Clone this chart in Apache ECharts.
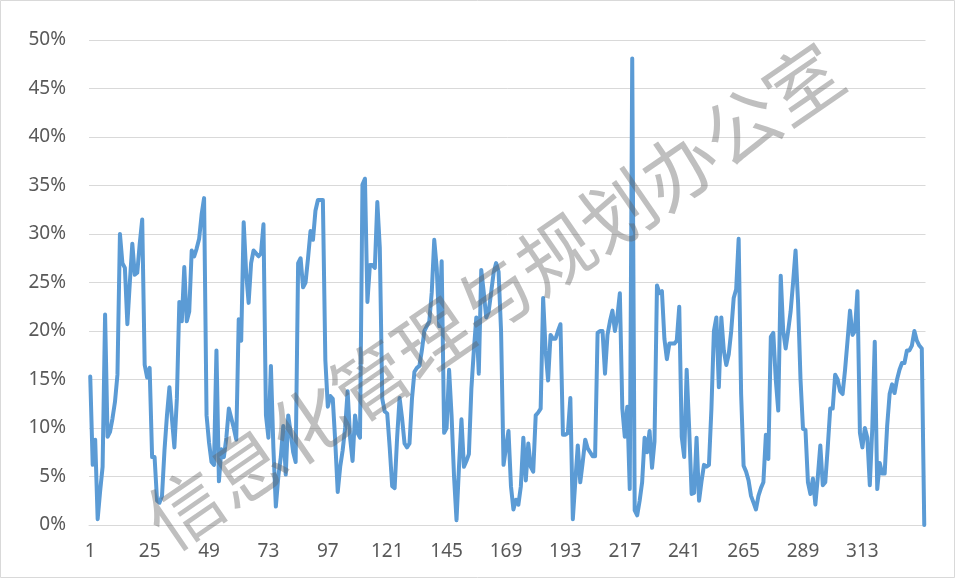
<!DOCTYPE html>
<html>
<head>
<meta charset="utf-8">
<title>line</title>
<script src="https://cdn.jsdelivr.net/npm/echarts@6/dist/echarts.min.js"></script>
<style>
html, body { margin: 0; padding: 0; background: #fff; }
#main { width: 956px; height: 579px; }
</style>
</head>
<body>
<div id="main"></div>
<script>
// values in percent, one per month
var values = [
  15.3, 6.2, 8.8, 0.6, 3.5, 6, 21.7, 9.1, 9.6, 11,
  12.7, 15.5, 30, 27, 26.5, 20.7, 25, 29, 25.8, 26,
  29, 31.5, 16.5, 15.2, 16.2, 7, 7, 2.5, 2.3, 3,
  7.7, 11.3, 14.2, 11, 8, 13, 23, 21, 26.6, 21,
  22, 28.3, 27.7, 28.5, 29.5, 32, 33.7, 11.3, 8.5, 6.5,
  6.2, 18, 4.5, 7.8, 7, 9, 12, 11, 10, 8.8,
  21.2, 19, 31.2, 26, 22.9, 27, 28.3, 28, 27.7, 28,
  31, 11.3, 9, 16.4, 8, 1.9, 5, 7, 10.2, 5.2,
  11.3, 9.5, 7.5, 6.5, 27, 27.5, 24.5, 25, 27.5, 30.3,
  29.4, 32.4, 33.5, 33.5, 33.5, 17, 12.2, 13.3, 13, 8.6,
  3.4, 6, 7.7, 10, 13.8, 9, 6.6, 11.3, 9.5, 9,
  35.1, 35.7, 23, 26.8, 26.8, 26.5, 33.3, 28.6, 13, 11.7,
  11.5, 8, 4, 3.8, 9, 13.1, 11, 8.4, 8, 8.4,
  13, 15.8, 16.2, 16.4, 18, 20, 20.5, 21, 24, 29.4,
  26.5, 20.5, 27.2, 9.5, 10, 16, 11.3, 5, 0.5, 6,
  10.9, 6, 6.6, 7.3, 14, 18, 21.4, 15.6, 26.3, 24,
  21.4, 22, 24, 26, 27, 26.1, 20, 6.2, 8, 9.7,
  4, 1.6, 2.6, 2.1, 4, 9, 4.6, 8.4, 6, 5.5,
  11.3, 11.6, 12, 23.4, 18, 14.9, 19.6, 19.2, 19.2, 20,
  20.7, 9.3, 9.3, 9.5, 13.1, 0.6, 4.5, 8.2, 4.4, 6.5,
  8.8, 7.9, 7.5, 7.1, 7.1, 19.8, 20, 20, 15.6, 19.6,
  21, 22.1, 20, 21.5, 23.9, 12, 9.1, 12.2, 3.7, 48.1,
  1.5, 1, 2.5, 4.4, 9, 7.5, 9.7, 5.9, 8.6, 24.7,
  23.9, 24.1, 19.2, 17.1, 18.7, 18.7, 18.7, 19, 22.5, 9.1,
  7, 16, 10, 3.2, 3.3, 9, 2.5, 4.5, 6.2, 6,
  6.2, 12, 20, 21.4, 14.2, 21.4, 18, 16.5, 17.6, 20,
  23.4, 24.3, 29.5, 13.5, 6.1, 5.5, 4.6, 3, 2.3, 1.6,
  3, 3.8, 4.4, 9.3, 6.8, 19.4, 19.8, 15, 11.8, 25.7,
  20, 18.2, 20, 22, 25, 28.3, 23, 15, 9.9, 9.8,
  4.4, 3.2, 4.8, 2.1, 5, 8.2, 4.1, 4.4, 8, 12,
  12, 15.5, 15, 13.8, 13.5, 16, 19, 22.1, 19.6, 20,
  24.1, 9.5, 8, 10, 9, 4.1, 10, 18.9, 3.7, 6.4,
  5.3, 5.3, 10.2, 13.5, 14.5, 13.6, 15, 16, 16.7, 16.7,
  18, 18, 18.5, 20, 19, 18.5, 18.2, 0
];
var xTicks = ['1', '25', '49', '73', '97', '121', '145', '169', '193', '217', '241', '265', '289', '313'];
var yMin = 0, yMax = 50, yStep = 5;
var watermark = '信息化管理与规划办公室';

var categories = [];
for (var i = 0; i < values.length; i++) {
    categories.push(String(i + 1));
}

var myChart = echarts.init(document.getElementById('main'));
var option = {
    animation: false,
    backgroundColor: '#ffffff',
    textStyle: { fontFamily: 'Noto Sans' },
    grid: { left: 89, right: 30.5, top: 40, bottom: 54, containLabel: false },
    xAxis: {
        type: 'category',
        data: categories,
        boundaryGap: true,
        axisLine: { show: true, lineStyle: { color: '#d9d9d9', width: 1 } },
        axisTick: { show: false },
        axisLabel: {
            interval: function (idx, val) { return xTicks.indexOf(val) >= 0; },
            color: '#595959',
            fontSize: 19,
            margin: 17,
            fontFamily: 'Noto Sans'
        },
        splitLine: { show: false }
    },
    yAxis: {
        type: 'value',
        min: yMin,
        max: yMax,
        interval: yStep,
        axisLine: { show: false },
        axisTick: { show: false },
        axisLabel: {
            formatter: '{value}%',
            color: '#595959',
            fontSize: 19,
            margin: 23,
            fontFamily: 'Noto Sans'
        },
        splitLine: { show: true, lineStyle: { color: '#d9d9d9', width: 1 } }
    },
    series: [{
        type: 'line',
        data: values,
        showSymbol: false,
        symbol: 'none',
        smooth: false,
        lineStyle: { color: '#5b9bd5', width: 4, cap: 'round', join: 'round' },
        itemStyle: { color: '#5b9bd5' },
        z: 2
    }],
    graphic: [
        {
            type: 'rect',
            shape: { x: 0.5, y: 0.5, width: 954, height: 577 },
            style: { fill: 'none', stroke: '#d9d9d9', lineWidth: 1 },
            silent: true,
            z: 0
        },
        {
            type: 'text',
            x: 494,
            y: 296,
            rotation: 34.5 * Math.PI / 180,
            style: {
                text: watermark,
                font: '75px "Noto Sans CJK SC"',
                fill: 'rgba(96,96,96,0.4)',
                align: 'center',
                verticalAlign: 'middle'
            },
            silent: true,
            z: 100
        }
    ]
};
myChart.setOption(option);
</script>
</body>
</html>
